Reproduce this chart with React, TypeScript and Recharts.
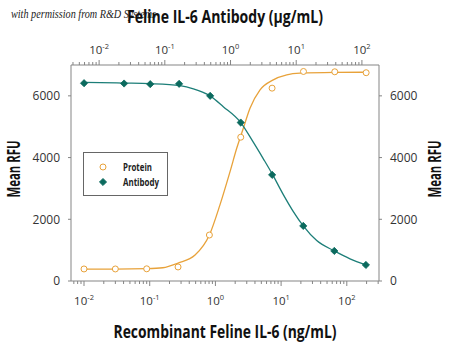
import React from "react";
import { ComposedChart, Line, XAxis, YAxis, Legend } from "recharts";

// Recombinant Feline IL-6 protein (ng/mL) vs Mean RFU
const proteinConc = [0.01, 0.03, 0.09, 0.27, 0.81, 2.43, 7.29, 21.9, 65.6, 197];
const proteinRFU = [390, 390, 395, 455, 1490, 4660, 6250, 6790, 6780, 6750];
// Feline IL-6 antibody (µg/mL) vs Mean RFU
const antibodyConc = [0.0059, 0.024, 0.06, 0.165, 0.49, 1.43, 4.3, 12.8, 38, 115];
const antibodyRFU = [6410, 6400, 6380, 6390, 6000, 5135, 3440, 1785, 975, 520];
// fitted curves
const proteinFitConc = [0.01, 0.03, 0.09, 0.158, 0.27, 0.49, 0.81, 1.17, 1.67, 2.11, 2.66, 3.36, 4.78, 7.6, 12.2, 19.4, 65, 197];
const proteinFitRFU = [385, 385, 400, 430, 580, 840, 1490, 2460, 3545, 4300, 4950, 5600, 6195, 6520, 6680, 6735, 6760, 6765];
const antibodyFitConc = [0.0059, 0.0233, 0.0596, 0.17, 0.272, 0.488, 0.776, 1.43, 2.22, 3.16, 4.39, 6.36, 9.04, 12.8, 20.5, 38, 65.9, 115];
const antibodyFitRFU = [6440, 6415, 6395, 6330, 6230, 6000, 5650, 5135, 4500, 3960, 3440, 2800, 2250, 1786, 1310, 975, 720, 525];

const yTicks = [0, 2000, 4000, 6000];
const decades = [-3, -2, -1, 0, 1, 2];
const bottomDomain = [0.006339, 309.0];
const topDomain = [0.003733, 181.97];

const zip = (xs: number[], ys: number[]) => xs.map((x, i) => ({ x, y: ys[i] }));
const proteinPts = zip(proteinConc, proteinRFU);
const antibodyPts = zip(antibodyConc, antibodyRFU);
const proteinFit = zip(proteinFitConc, proteinFitRFU);
const antibodyFit = zip(antibodyFitConc, antibodyFitRFU);

const logTicks = (dom: number[]) => {
  const out: number[] = [];
  decades.forEach((d) => {
    for (let m = 1; m <= 9; m++) {
      const v = m * Math.pow(10, d);
      if (v >= dom[0] && v <= dom[1]) out.push(Number(v.toPrecision(3)));
    }
  });
  return out;
};

const FONT = "'Open Sans', 'Liberation Sans', sans-serif";
const ORANGE = "#E8A23A";
const TEAL = "#1C7E78";
const TEAL_DARK = "#0B6A5E";
const AXIS = "#858585";
const TICKTXT = "#333";

const makeTick = (dir: number, labelDy: number) => (props: any) => {
  const { x, y, payload } = props;
  const v = payload.value;
  const lg = Math.log10(v);
  const e = Math.round(lg);
  const major = Math.abs(lg - e) < 1e-6;
  return (
    <g>
      <line x1={x} x2={x} y1={y} y2={y + dir * (major ? 5 : 3)} stroke={AXIS} strokeWidth={1} />
      {major && (
        <text x={x} y={y + labelDy} textAnchor="middle" fontFamily={FONT} fontSize={11.5} fill={TICKTXT}>
          <tspan>10</tspan>
          <tspan dy={-5} fontSize={7.5}>{String(e)}</tspan>
        </text>
      )}
    </g>
  );
};

const Circle = (props: any) => {
  const { cx, cy } = props;
  if (cx == null || cy == null) return null;
  return <circle cx={cx} cy={cy} r={3} fill="#fff" stroke={ORANGE} strokeWidth={1} />;
};
const Diamond = (props: any) => {
  const { cx, cy } = props;
  if (cx == null || cy == null) return null;
  const s = 3.6;
  return <path d={`M${cx},${cy - s}L${cx + s},${cy}L${cx},${cy + s}L${cx - s},${cy}Z`} fill={TEAL_DARK} stroke={TEAL_DARK} strokeWidth={0.8} strokeLinejoin="round" />;
};

const renderLegend = () => (
  <svg width={86} height={46} style={{ display: "block", overflow: "visible" }}>
    <rect x={0.5} y={0.5} width={84} height={43} fill="#fff" stroke="#666" strokeWidth={1} />
    <circle cx={20} cy={15} r={3} fill="#fff" stroke={ORANGE} strokeWidth={1} />
    <text x={40} y={19} fontFamily={FONT} fontWeight={700} fontSize={10.5} fill="#222" textLength={29} lengthAdjust="spacingAndGlyphs">Protein</text>
    <path d="M20,26.4L23.6,30L20,33.6L16.4,30Z" fill={TEAL_DARK} stroke={TEAL_DARK} strokeWidth={0.8} />
    <text x={40} y={34} fontFamily={FONT} fontWeight={700} fontSize={10.5} fill="#222" textLength={36} lengthAdjust="spacingAndGlyphs">Antibody</text>
  </svg>
);

export default function App() {
  return (
    <div style={{ position: "absolute", left: 0, top: 0, width: 450, height: 345, background: "#fff" }}>
      <ComposedChart width={450} height={345} margin={{ top: 0, right: 0, bottom: 0, left: 0 }}>
        <XAxis
          xAxisId="bottom"
          dataKey="x"
          type="number"
          scale="log"
          domain={bottomDomain}
          allowDataOverflow
          ticks={logTicks(bottomDomain)}
          interval={0}
          height={64}
          tickSize={0}
          tickMargin={0}
          tickLine={false}
          axisLine={{ stroke: AXIS }}
          tick={makeTick(1, 24)}
        />
        <XAxis
          xAxisId="top"
          orientation="top"
          dataKey="x"
          type="number"
          scale="log"
          domain={topDomain}
          allowDataOverflow
          ticks={logTicks(topDomain)}
          interval={0}
          height={65}
          tickSize={0}
          tickMargin={0}
          tickLine={false}
          axisLine={{ stroke: AXIS }}
          tick={makeTick(-1, -11)}
        />
        <YAxis
          yAxisId="left"
          type="number"
          domain={[0, 7000]}
          allowDataOverflow
          ticks={yTicks}
          interval={0}
          width={71}
          tickSize={3}
          tickMargin={8}
          axisLine={{ stroke: AXIS }}
          tickLine={{ stroke: AXIS }}
          tick={{ fontFamily: FONT, fontSize: 12, fill: TICKTXT }}
        />
        <YAxis
          yAxisId="right"
          orientation="right"
          type="number"
          domain={[0, 7000]}
          allowDataOverflow
          ticks={yTicks}
          interval={0}
          width={71}
          tickSize={3}
          tickMargin={8}
          axisLine={{ stroke: AXIS }}
          tickLine={{ stroke: AXIS }}
          tick={{ fontFamily: FONT, fontSize: 12, fill: TICKTXT }}
        />
        <Line data={proteinFit} xAxisId="bottom" yAxisId="left" dataKey="y" type="monotone" stroke={ORANGE} strokeWidth={1.3} dot={false} activeDot={false} legendType="none" isAnimationActive={false} />
        <Line data={antibodyFit} xAxisId="top" yAxisId="right" dataKey="y" type="monotone" stroke={TEAL} strokeWidth={1.3} dot={false} activeDot={false} legendType="none" isAnimationActive={false} />
        <Line data={proteinPts} xAxisId="bottom" yAxisId="left" dataKey="y" name="Protein" stroke="none" dot={<Circle />} activeDot={false} isAnimationActive={false} />
        <Line data={antibodyPts} xAxisId="top" yAxisId="right" dataKey="y" name="Antibody" stroke="none" dot={<Diamond />} activeDot={false} isAnimationActive={false} />
        <Legend layout="horizontal" verticalAlign="middle" align="center" content={renderLegend} wrapperStyle={{ position: "absolute", left: 83, top: 152, width: 86, height: 46 }} />
      </ComposedChart>
      <svg width={450} height={345} style={{ position: "absolute", left: 0, top: 0, pointerEvents: "none" }}>
        <text x={11} y={18} fontFamily="'Liberation Serif', serif" fontStyle="italic" fontSize={12} fill="#222" textLength={145} lengthAdjust="spacingAndGlyphs">
          with permission from R&amp;D Systems
        </text>
        <text x={225} y={23} textAnchor="middle" fontFamily={FONT} fontWeight={700} fontSize={17} fill="#111" textLength={196} lengthAdjust="spacingAndGlyphs">
          Feline IL-6 Antibody (µg/mL)
        </text>
        <text x={225} y={338} textAnchor="middle" fontFamily={FONT} fontWeight={700} fontSize={17} fill="#111" textLength={223} lengthAdjust="spacingAndGlyphs">
          Recombinant Feline IL-6 (ng/mL)
        </text>
        <text transform="translate(20,169) rotate(-90)" textAnchor="middle" fontFamily={FONT} fontWeight={700} fontSize={17} fill="#111" textLength={57} lengthAdjust="spacingAndGlyphs">
          Mean RFU
        </text>
        <text transform="translate(441,169) rotate(-90)" textAnchor="middle" fontFamily={FONT} fontWeight={700} fontSize={17} fill="#111" textLength={57} lengthAdjust="spacingAndGlyphs">
          Mean RFU
        </text>
      </svg>
    </div>
  );
}
